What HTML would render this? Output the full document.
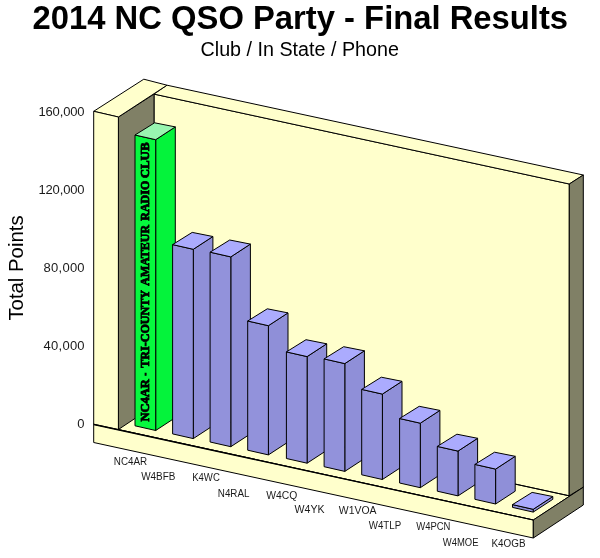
<!DOCTYPE html>
<html><head><meta charset="utf-8"><title>2014 NC QSO Party - Final Results</title>
<style>
html,body{margin:0;padding:0;background:#fff;}
svg{display:block;}
text{font-family:"Liberation Sans",sans-serif;}
</style></head><body>
<svg width="600" height="558" viewBox="0 0 600 558">
<rect width="600" height="558" fill="#fff"/>
<polygon points="93.7,424.2 533.3,520.0 583.3,487.2 143.7,391.4" fill="#FFFFCC" stroke="#000" stroke-width="1" stroke-linejoin="round" />
<polygon points="154.0,94.1 569.3,184.0 569.2,495.8 154.0,405.8" fill="#FFFFCC" stroke="#000" stroke-width="1" stroke-linejoin="round" />
<polygon points="154.0,94.1 167.0,85.2 583.3,175.0 569.3,184.0" fill="#FFFFCC" stroke="#000" stroke-width="1" stroke-linejoin="round" />
<polygon points="569.3,184.0 583.3,175.0 583.3,487.2 569.2,495.8" fill="#808066" stroke="#000" stroke-width="1" stroke-linejoin="round" />
<line x1="154.0" y1="405.8" x2="569.2" y2="495.8" stroke="#000" stroke-width="1"/>
<polygon points="93.7,424.2 533.3,520.0 533.3,538.0 93.7,442.5" fill="#FFFFCC" stroke="#000" stroke-width="1" stroke-linejoin="round" />
<polygon points="533.3,520.0 583.3,487.2 583.3,505.0 533.3,538.0" fill="#808066" stroke="#000" stroke-width="1" stroke-linejoin="round" />
<polygon points="118.4,117.0 154.0,94.1 154.0,405.8 118.4,429.5" fill="#808066" stroke="#000" stroke-width="1" stroke-linejoin="round" />
<polygon points="93.7,111.3 118.4,117.0 167.0,85.2 143.8,79.2" fill="#FFFFCC" stroke="#000" stroke-width="1" stroke-linejoin="round" />
<polygon points="93.7,111.3 118.4,117.0 118.4,429.5 93.7,424.2" fill="#FFFFCC" stroke="#000" stroke-width="1" stroke-linejoin="round" />
<polygon points="93.7,423.7 533.3,519.5 533.3,520.6 93.7,425.15" fill="#000"/>
<polygon points="155.7,139.7 175.3,126.9 175.3,417.7 155.7,430.5" fill="#04F33B" stroke="#000" stroke-width="1" stroke-linejoin="round" />
<polygon points="135.0,135.0 155.7,139.7 155.7,430.5 135.0,425.8" fill="#06F93E" stroke="#000" stroke-width="1" stroke-linejoin="round" />
<polygon points="135.0,135.0 155.7,139.7 175.3,126.9 154.6,122.8" fill="#98F5B0" stroke="#000" stroke-width="1" stroke-linejoin="round" />
<g transform="translate(149.4,421.5) rotate(-90)" style="font-family:'Liberation Serif',serif" font-weight="bold" font-size="13.4" stroke="#000" stroke-width="0.85" fill="#000"><text x="0" y="0" textLength="42.3" lengthAdjust="spacingAndGlyphs" style="font-family:'Liberation Serif',serif">NC4AR</text><text x="45.7" y="0" textLength="3.0" lengthAdjust="spacingAndGlyphs" style="font-family:'Liberation Serif',serif">-</text><text x="53.8" y="0" textLength="77.7" lengthAdjust="spacingAndGlyphs" style="font-family:'Liberation Serif',serif">TRI-COUNTY</text><text x="135.8" y="0" textLength="60.7" lengthAdjust="spacingAndGlyphs" style="font-family:'Liberation Serif',serif">AMATEUR</text><text x="200.8" y="0" textLength="39.9" lengthAdjust="spacingAndGlyphs" style="font-family:'Liberation Serif',serif">RADIO</text><text x="243.2" y="0" textLength="35.8" lengthAdjust="spacingAndGlyphs" style="font-family:'Liberation Serif',serif">CLUB</text></g>
<polygon points="193.3,249.3 212.9,236.5 212.9,425.8 193.3,438.6" fill="#8F8FD8" stroke="#000" stroke-width="1" stroke-linejoin="round" />
<polygon points="172.6,244.6 193.3,249.3 193.3,438.6 172.6,433.9" fill="#9292DB" stroke="#000" stroke-width="1" stroke-linejoin="round" />
<polygon points="172.6,244.6 193.3,249.3 212.9,236.5 192.2,232.4" fill="#ABABFE" stroke="#000" stroke-width="1" stroke-linejoin="round" />
<polygon points="230.8,256.9 250.4,244.1 250.4,433.9 230.8,446.7" fill="#8F8FD8" stroke="#000" stroke-width="1" stroke-linejoin="round" />
<polygon points="210.1,252.2 230.8,256.9 230.8,446.7 210.1,442.0" fill="#9292DB" stroke="#000" stroke-width="1" stroke-linejoin="round" />
<polygon points="210.1,252.2 230.8,256.9 250.4,244.1 229.7,240.0" fill="#ABABFE" stroke="#000" stroke-width="1" stroke-linejoin="round" />
<polygon points="268.4,325.7 288.0,312.9 288.0,442.1 268.4,454.9" fill="#8F8FD8" stroke="#000" stroke-width="1" stroke-linejoin="round" />
<polygon points="247.7,321.0 268.4,325.7 268.4,454.9 247.7,450.2" fill="#9292DB" stroke="#000" stroke-width="1" stroke-linejoin="round" />
<polygon points="247.7,321.0 268.4,325.7 288.0,312.9 267.3,308.8" fill="#ABABFE" stroke="#000" stroke-width="1" stroke-linejoin="round" />
<polygon points="307.1,356.6 326.7,343.8 326.7,450.4 307.1,463.2" fill="#8F8FD8" stroke="#000" stroke-width="1" stroke-linejoin="round" />
<polygon points="286.4,351.9 307.1,356.6 307.1,463.2 286.4,458.5" fill="#9292DB" stroke="#000" stroke-width="1" stroke-linejoin="round" />
<polygon points="286.4,351.9 307.1,356.6 326.7,343.8 306.0,339.7" fill="#ABABFE" stroke="#000" stroke-width="1" stroke-linejoin="round" />
<polygon points="344.8,363.6 364.4,350.8 364.4,458.6 344.8,471.4" fill="#8F8FD8" stroke="#000" stroke-width="1" stroke-linejoin="round" />
<polygon points="324.1,358.9 344.8,363.6 344.8,471.4 324.1,466.7" fill="#9292DB" stroke="#000" stroke-width="1" stroke-linejoin="round" />
<polygon points="324.1,358.9 344.8,363.6 364.4,350.8 343.7,346.7" fill="#ABABFE" stroke="#000" stroke-width="1" stroke-linejoin="round" />
<polygon points="382.4,394.1 402.0,381.3 402.0,466.7 382.4,479.5" fill="#8F8FD8" stroke="#000" stroke-width="1" stroke-linejoin="round" />
<polygon points="361.7,389.4 382.4,394.1 382.4,479.5 361.7,474.8" fill="#9292DB" stroke="#000" stroke-width="1" stroke-linejoin="round" />
<polygon points="361.7,389.4 382.4,394.1 402.0,381.3 381.3,377.2" fill="#ABABFE" stroke="#000" stroke-width="1" stroke-linejoin="round" />
<polygon points="420.3,423.2 439.9,410.4 439.9,474.9 420.3,487.7" fill="#8F8FD8" stroke="#000" stroke-width="1" stroke-linejoin="round" />
<polygon points="399.6,418.5 420.3,423.2 420.3,487.7 399.6,483.0" fill="#9292DB" stroke="#000" stroke-width="1" stroke-linejoin="round" />
<polygon points="399.6,418.5 420.3,423.2 439.9,410.4 419.2,406.3" fill="#ABABFE" stroke="#000" stroke-width="1" stroke-linejoin="round" />
<polygon points="458.0,451.1 477.6,438.3 477.6,483.1 458.0,495.9" fill="#8F8FD8" stroke="#000" stroke-width="1" stroke-linejoin="round" />
<polygon points="437.3,446.4 458.0,451.1 458.0,495.9 437.3,491.2" fill="#9292DB" stroke="#000" stroke-width="1" stroke-linejoin="round" />
<polygon points="437.3,446.4 458.0,451.1 477.6,438.3 456.9,434.2" fill="#ABABFE" stroke="#000" stroke-width="1" stroke-linejoin="round" />
<polygon points="495.6,469.1 515.2,456.3 515.2,491.2 495.6,504.0" fill="#8F8FD8" stroke="#000" stroke-width="1" stroke-linejoin="round" />
<polygon points="474.9,464.4 495.6,469.1 495.6,504.0 474.9,499.3" fill="#9292DB" stroke="#000" stroke-width="1" stroke-linejoin="round" />
<polygon points="474.9,464.4 495.6,469.1 515.2,456.3 494.5,452.2" fill="#ABABFE" stroke="#000" stroke-width="1" stroke-linejoin="round" />
<polygon points="533.2,509.3 552.8,496.5 552.8,499.3 533.2,512.1" fill="#8F8FD8" stroke="#000" stroke-width="1" stroke-linejoin="round" />
<polygon points="512.5,504.6 533.2,509.3 533.2,512.1 512.5,507.4" fill="#9292DB" stroke="#000" stroke-width="1" stroke-linejoin="round" />
<polygon points="512.5,504.6 533.2,509.3 552.8,496.5 532.1,492.4" fill="#ABABFE" stroke="#000" stroke-width="1" stroke-linejoin="round" />
<text x="32.6" y="29" font-size="33.4" font-weight="bold" textLength="535.5" lengthAdjust="spacingAndGlyphs">2014 NC QSO Party - Final Results</text>
<text x="200.5" y="56" font-size="19.6" textLength="198.5" lengthAdjust="spacingAndGlyphs">Club / In State / Phone</text>
<text transform="translate(22.8,320.6) rotate(-90)" font-size="20.6" textLength="105.2" lengthAdjust="spacingAndGlyphs">Total Points</text>
<text x="38.4" y="116.4" font-size="13" textLength="46.2" lengthAdjust="spacing" fill="#1a1a1a">160,000</text>
<text x="38.4" y="194.4" font-size="13" textLength="46.2" lengthAdjust="spacing" fill="#1a1a1a">120,000</text>
<text x="43.6" y="272.4" font-size="13" textLength="41.0" lengthAdjust="spacing" fill="#1a1a1a">80,000</text>
<text x="43.6" y="350.4" font-size="13" textLength="41.0" lengthAdjust="spacing" fill="#1a1a1a">40,000</text>
<text x="77.2" y="428.4" font-size="13" textLength="7.4" lengthAdjust="spacing" fill="#1a1a1a">0</text>
<text x="113.8" y="465.1" font-size="10" textLength="33.4" lengthAdjust="spacingAndGlyphs" fill="#1a1a1a">NC4AR</text>
<text x="141.2" y="479.9" font-size="10" textLength="34.3" lengthAdjust="spacingAndGlyphs" fill="#1a1a1a">W4BFB</text>
<text x="192.2" y="481.4" font-size="10" textLength="27.6" lengthAdjust="spacingAndGlyphs" fill="#1a1a1a">K4WC</text>
<text x="217.8" y="496.7" font-size="10" textLength="31.7" lengthAdjust="spacingAndGlyphs" fill="#1a1a1a">N4RAL</text>
<text x="266.2" y="498.6" font-size="10" textLength="31.0" lengthAdjust="spacingAndGlyphs" fill="#1a1a1a">W4CQ</text>
<text x="294.5" y="512.9" font-size="10" textLength="30.0" lengthAdjust="spacingAndGlyphs" fill="#1a1a1a">W4YK</text>
<text x="338.8" y="514.0" font-size="10" textLength="37.7" lengthAdjust="spacingAndGlyphs" fill="#1a1a1a">W1VOA</text>
<text x="368.8" y="528.9" font-size="10" textLength="32.4" lengthAdjust="spacingAndGlyphs" fill="#1a1a1a">W4TLP</text>
<text x="416.2" y="530.0" font-size="10" textLength="34.3" lengthAdjust="spacingAndGlyphs" fill="#1a1a1a">W4PCN</text>
<text x="442.8" y="545.9" font-size="10" textLength="35.7" lengthAdjust="spacingAndGlyphs" fill="#1a1a1a">W4MOE</text>
<text x="491.4" y="547.0" font-size="10" textLength="34.1" lengthAdjust="spacingAndGlyphs" fill="#1a1a1a">K4OGB</text>
</svg>
</body></html>
